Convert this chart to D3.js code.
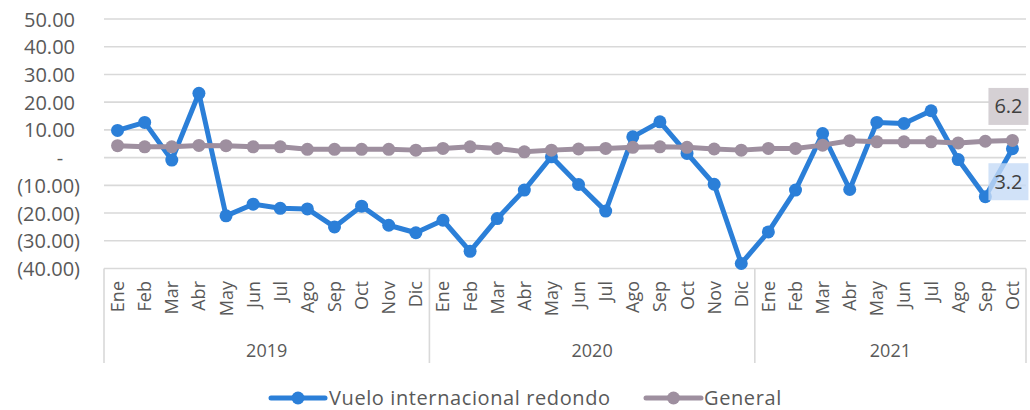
<!DOCTYPE html>
<html>
<head>
<meta charset="utf-8">
<script src="https://cdn.jsdelivr.net/npm/d3@7"></script>
<style>
  html, body { margin: 0; padding: 0; background: #ffffff; }
  svg { display: block; font-family: "Open Sans", "Noto Sans", sans-serif; }
</style>
</head>
<body>
<svg id="chart" width="1030" height="410"></svg>
<script>
// ---- Data ----
const months = ["Ene","Feb","Mar","Abr","May","Jun","Jul","Ago","Sep","Oct","Nov","Dic"];
const years = ["2019","2020","2021"];
const monthCounts = [12, 12, 10];
const vuelo = [9.8, 12.7, -0.9, 23.2, -21.0, -16.8, -18.3, -18.5, -25.0, -17.5, -24.4, -27.1,
  -22.6, -33.8, -22.0, -11.7, 0.3, -9.7, -19.3, 7.5, 12.9, 1.5, -9.6, -38.2,
  -26.8, -11.7, 8.7, -11.5, 12.7, 12.3, 16.9, -0.7, -14.1, 3.2];
const general = [4.3, 3.9, 3.9, 4.4, 4.3, 3.9, 3.9, 3.0, 3.0, 3.0, 3.0, 2.7,
  3.3, 3.9, 3.3, 2.1, 2.7, 3.1, 3.3, 3.7, 3.9, 3.7, 3.1, 2.7,
  3.3, 3.3, 4.5, 6.1, 5.7, 5.7, 5.7, 5.3, 5.9, 6.2];
const yTicks = [-40, -30, -20, -10, 0, 10, 20, 30, 40, 50];
const seriesNames = ["Vuelo internacional redondo", "General"];
const seriesColors = ["#2b7fd8", "#9e8f9f"];

// ---- Build categories ----
const cats = [];
years.forEach((yr, yi) => {
  for (let m = 0; m < monthCounts[yi]; m++) cats.push({ key: yr + "-" + months[m], month: months[m], year: yr });
});

const svg = d3.select("#chart");
const textColor = "#595959";
const gridColor = "#d9d9d9";

const x = d3.scaleBand().domain(cats.map(d => d.key)).range([104, 1026]).padding(0);
const y = d3.scaleLinear().domain([-40, 50]).range([268.5, 19]);
const cx = k => x(k) + x.bandwidth() / 2;

// Gridlines
svg.append("g").selectAll("line").data(yTicks).join("line")
  .attr("x1", 104).attr("x2", 1026)
  .attr("y1", d => y(d)).attr("y2", d => y(d))
  .attr("stroke", gridColor).attr("stroke-width", 1.6);

// Y axis labels
const fmt = v => v < 0 ? "(" + Math.abs(v).toFixed(2) + ")" : (v === 0 ? "-" : v.toFixed(2));
const yAxis = svg.append("g").attr("transform", "translate(80,0)")
  .call(d3.axisLeft(y).tickValues(yTicks).tickFormat(fmt).tickSize(0).tickPadding(0));
yAxis.select(".domain").remove();
yAxis.selectAll("text")
  .attr("fill", textColor)
  .style("font-size", "20px")
  .style("font-family", "'Open Sans', sans-serif")
  .attr("x", d => d < 0 ? 0 : (d === 0 ? -20 : -5))
  .attr("text-anchor", d => d === 0 ? "middle" : "end")
  .attr("dy", "0.35em");

// Category box lines
const boxTop = 268.5, boxBottom = 363;
const yearStarts = [];
let acc = 0;
monthCounts.forEach((c, i) => { yearStarts.push({ year: years[i], start: cats[acc].key, end: cats[acc + c - 1].key }); acc += c; });
const vx = [x(cats[0].key)].concat(yearStarts.map(d => x(d.end) + x.bandwidth()));
svg.append("g").selectAll("line").data(vx).join("line")
  .attr("x1", d => d).attr("x2", d => d)
  .attr("y1", boxTop).attr("y2", boxBottom)
  .attr("stroke", gridColor).attr("stroke-width", 1.6);

// Month labels
svg.append("g").selectAll("text").data(cats).join("text")
  .attr("transform", d => `translate(${cx(d.key)},281) rotate(-90)`)
  .attr("text-anchor", "end")
  .attr("dy", "0.36em")
  .attr("fill", textColor)
  .style("font-size", "18px")
  .text(d => d.month);

// Year labels
svg.append("g").selectAll("text").data(yearStarts).join("text")
  .attr("x", d => (x(d.start) + x(d.end) + x.bandwidth()) / 2)
  .attr("y", 351)
  .attr("dy", "0.35em")
  .attr("text-anchor", "middle")
  .attr("fill", textColor)
  .style("font-size", "18px")
  .text(d => d.year);

// Series
const seriesData = [vuelo, general];
seriesData.forEach((vals, si) => {
  const pts = vals.map((v, i) => ({ key: cats[i].key, v }));
  const line = d3.line().x(d => cx(d.key)).y(d => y(d.v));
  const g = svg.append("g");
  g.append("path").datum(pts)
    .attr("d", line)
    .attr("fill", "none")
    .attr("stroke", seriesColors[si])
    .attr("stroke-width", 5)
    .attr("stroke-linejoin", "round");
  g.selectAll("circle").data(pts).join("circle")
    .attr("cx", d => cx(d.key)).attr("cy", d => y(d.v))
    .attr("r", 6.5)
    .attr("fill", seriesColors[si]);
});

// Data labels for last points
const lastKey = cats[cats.length - 1].key;
const labels = [
  { v: general[general.length - 1], fill: "#d5d0d4", opacity: 1, dy: -34 },
  { v: vuelo[vuelo.length - 1], fill: "#c6dbf6", opacity: 0.8, dy: 33 }
];
labels.forEach(l => {
  const px = cx(lastKey), py = y(l.v);
  const bx = px - 24, bw = 40, bh = 37;
  const byc = py + l.dy;
  svg.append("rect")
    .attr("x", bx).attr("y", byc - bh / 2)
    .attr("width", bw).attr("height", bh)
    .attr("fill", l.fill).attr("fill-opacity", l.opacity);
  svg.append("text")
    .attr("x", bx + bw / 2).attr("y", byc)
    .attr("dy", "0.35em")
    .attr("text-anchor", "middle")
    .attr("fill", "#404040")
    .style("font-size", "20px")
    .text(l.v.toFixed(1));
});

// Legend
const legend = [
  { name: seriesNames[0], color: seriesColors[0], x1: 271, x2: 325, tx: 329 },
  { name: seriesNames[1], color: seriesColors[1], x1: 646, x2: 701, tx: 704 }
];
const lg = svg.append("g");
legend.forEach(l => {
  const ly = 398;
  lg.append("line").attr("x1", l.x1).attr("x2", l.x2).attr("y1", ly).attr("y2", ly)
    .attr("stroke", l.color).attr("stroke-width", 5).attr("stroke-linecap", "round");
  lg.append("circle").attr("cx", (l.x1 + l.x2) / 2).attr("cy", ly).attr("r", 6.5).attr("fill", l.color);
  lg.append("text").attr("x", l.tx).attr("y", ly).attr("dy", "0.36em")
    .attr("fill", textColor)
    .style("font-size", "20px")
    .style("letter-spacing", "0.6px")
    .text(l.name);
});
</script>
</body>
</html>
